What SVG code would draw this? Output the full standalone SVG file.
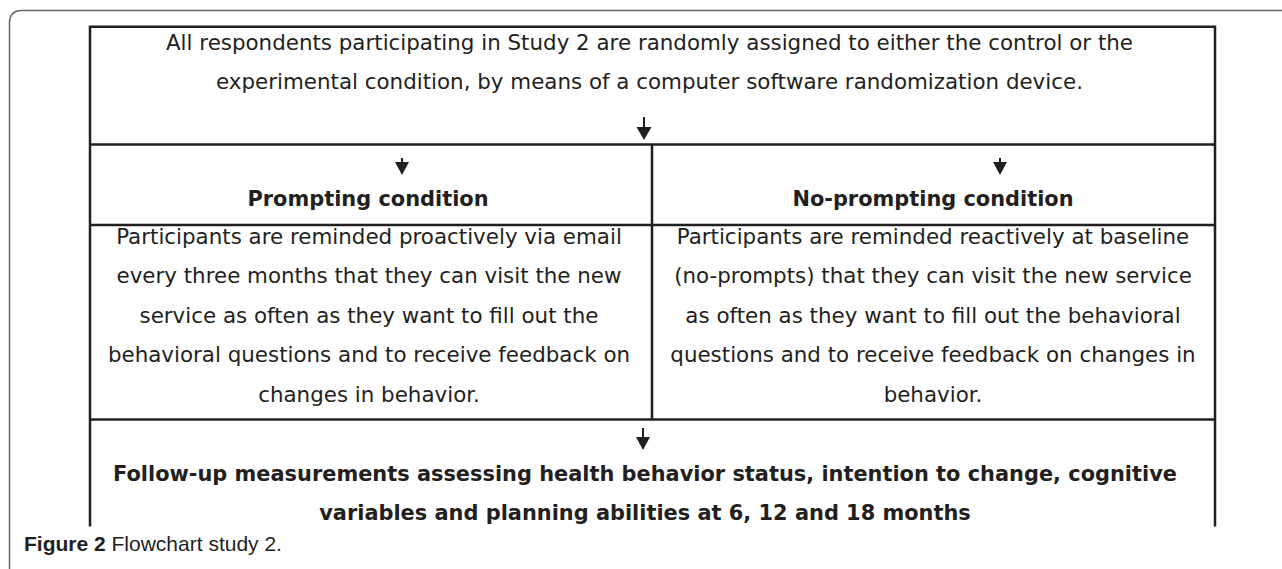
<svg xmlns="http://www.w3.org/2000/svg" width="1282" height="569" viewBox="0 0 1282 569">
<style>
.t{font-family:"DejaVu Sans",Verdana,sans-serif;font-size:21.4px;fill:#231f20;text-anchor:middle}
.b{font-weight:bold;font-size:20.9px}
.ln{stroke:#231f20;stroke-width:2.5;fill:none}
.cap{font-family:"Liberation Sans",Arial,sans-serif;font-size:21px;fill:#231f20}
</style>
<rect width="1282" height="569" fill="#fff"/>
<path d="M9.5,569 V23 Q9.5,10.5 22,10.5 H1282" fill="none" stroke="#666" stroke-width="1.5"/>
<g id="frame">
<path class="ln" d="M90,526.5 V26.7 H1215 V526.5"/>
<line class="ln" x1="90" y1="144.5" x2="1215" y2="144.5"/>
<line class="ln" x1="90" y1="225" x2="1215" y2="225"/>
<line class="ln" x1="90" y1="419.5" x2="1215" y2="419.5"/>
<line class="ln" x1="652" y1="144.5" x2="652" y2="419.5"/>
</g>
<g id="n-start">
<text class="t" x="649.5" y="49.5">All respondents participating in Study 2 are randomly assigned to either the control or the</text>
<text class="t" x="649.5" y="89">experimental condition, by means of a computer software randomization device.</text>
</g>
<g id="n-prompt">
<text class="t b" x="368" y="205.5">Prompting condition</text>
<text class="t" x="369" y="243.5">Participants are reminded proactively via email</text>
<text class="t" x="369" y="283">every three months that they can visit the new</text>
<text class="t" x="369" y="322.5">service as often as they want to fill out the</text>
<text class="t" x="369" y="362">behavioral questions and to receive feedback on</text>
<text class="t" x="369" y="401.5">changes in behavior.</text>
</g>
<g id="n-noprompt">
<text class="t b" x="933" y="205.5">No-prompting condition</text>
<text class="t" x="933" y="243.5">Participants are reminded reactively at baseline</text>
<text class="t" x="933" y="283">(no-prompts) that they can visit the new service</text>
<text class="t" x="933" y="322.5">as often as they want to fill out the behavioral</text>
<text class="t" x="933" y="362">questions and to receive feedback on changes in</text>
<text class="t" x="933" y="401.5">behavior.</text>
</g>
<g id="n-follow">
<text class="t b" x="645" y="481">Follow-up measurements assessing health behavior status, intention to change, cognitive</text>
<text class="t b" x="645" y="520">variables and planning abilities at 6, 12 and 18 months</text>
</g>
<g id="connectors" fill="#231f20" stroke="#231f20">
<line x1="644" y1="117" x2="644" y2="128" stroke-width="2"/>
<path d="M636.5,127 H651.5 L644,140 z" stroke="none"/>
<line x1="402" y1="158" x2="402" y2="163" stroke-width="2"/>
<path d="M395,162 H409 L402,175 z" stroke="none"/>
<line x1="1000" y1="158" x2="1000" y2="163" stroke-width="2"/>
<path d="M993,162 H1007 L1000,175 z" stroke="none"/>
<line x1="643" y1="428" x2="643" y2="438" stroke-width="2"/>
<path d="M636,437 H650 L643,450 z" stroke="none"/>
</g>
<text class="cap" x="24" y="551"><tspan font-weight="bold">Figure 2</tspan> Flowchart study 2.</text>
</svg>
